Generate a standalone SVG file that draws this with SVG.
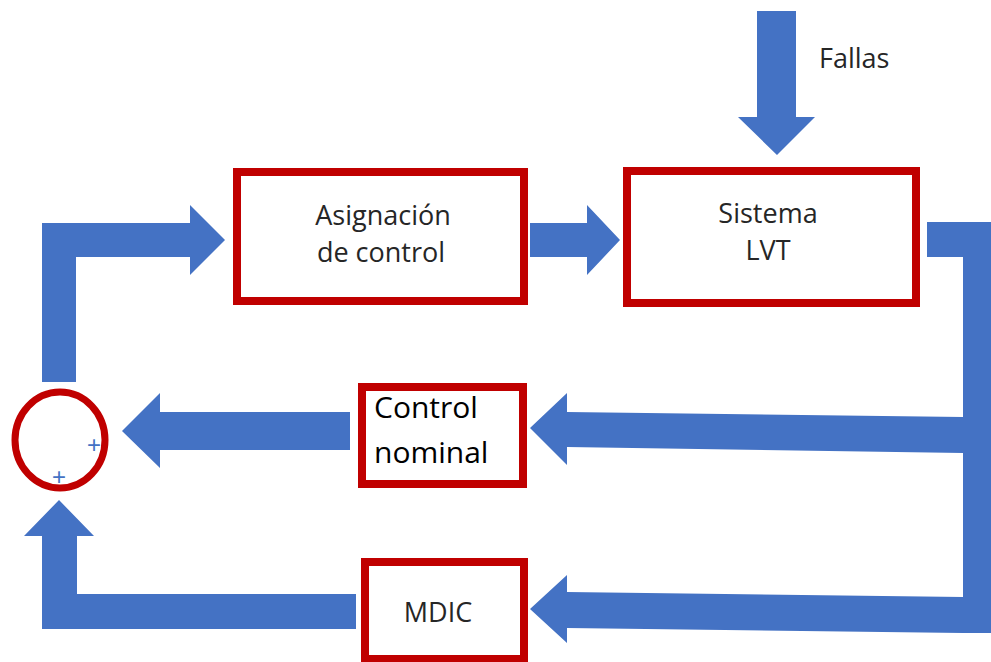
<svg xmlns="http://www.w3.org/2000/svg" width="991" height="662" viewBox="0 0 991 662">
<style>
.arr{fill:#4472C4;}
.box{fill:#ffffff;stroke:#C00000;stroke-width:8;}
.lbl{font-family:"Open Sans","Noto Sans",sans-serif;font-size:27px;fill:#262626;text-anchor:middle;}
.lbl2{font-family:"Open Sans","Noto Sans",sans-serif;font-size:30px;fill:#000000;}
.plus{font-family:"Liberation Sans",sans-serif;font-size:24px;fill:#4472C4;text-anchor:middle;}
</style>
<rect width="991" height="662" fill="#ffffff"/>
<g id="connectors">
  <!-- Fallas arrow -->
  <polygon class="arr" points="757,11 796,11 796,117 815,117 777,155 738,117 757,117"/>
  <!-- Asignacion -> Sistema -->
  <polygon class="arr" points="530,223 587,223 587,205 620,240 587,275 587,257 530,257"/>
  <!-- Sum -> Asignacion (L arrow) -->
  <polygon class="arr" points="42,382 42,223 190,223 190,205 225,240 190,275 190,257 76,257 76,382"/>
  <!-- output bus right -->
  <polygon class="arr" points="927,222 991,222 991,633 963,633 963,257 927,257"/>
  <!-- to Control nominal -->
  <polygon class="arr" points="963,417 963,453 567,447 567,465 530,428 567,393 567,412"/>
  <!-- to MDIC -->
  <polygon class="arr" points="963,597 963,633 567,628 567,643 530,609 567,575 567,592"/>
  <!-- Control nominal -> sum -->
  <polygon class="arr" points="350,412 350,450 160,450 160,468 122,431 160,393 160,412"/>
  <!-- MDIC -> sum (L arrow) -->
  <polygon class="arr" points="356,594 356,629 42,629 42,536 24,536 59,500 94,536 77,536 77,594"/>
</g>
<g id="sum">
  <ellipse cx="60" cy="440" rx="45" ry="48" fill="none" stroke="#C00000" stroke-width="7"/>
  <text class="plus" x="94" y="453">+</text>
  <text class="plus" x="59" y="485">+</text>
</g>
<g id="asignacion">
  <rect class="box" x="237" y="172" width="287" height="129"/>
  <text class="lbl" x="383" y="225">Asignación</text>
  <text class="lbl" x="381" y="262">de control</text>
</g>
<g id="sistema">
  <rect class="box" x="627" y="171" width="289" height="132"/>
  <text class="lbl" x="768" y="223">Sistema</text>
  <text class="lbl" x="768" y="260">LVT</text>
</g>
<g id="control-nominal">
  <rect class="box" x="362" y="387" width="161" height="97"/>
  <text class="lbl2" x="374" y="418">Control</text>
  <text class="lbl2" x="374" y="463">nominal</text>
</g>
<g id="mdic">
  <rect class="box" x="365" y="562" width="159" height="97"/>
  <text class="lbl" x="438" y="622">MDIC</text>
</g>
<g id="fallas">
  <text class="lbl" x="819" y="68" style="text-anchor:start">Fallas</text>
</g>
</svg>
